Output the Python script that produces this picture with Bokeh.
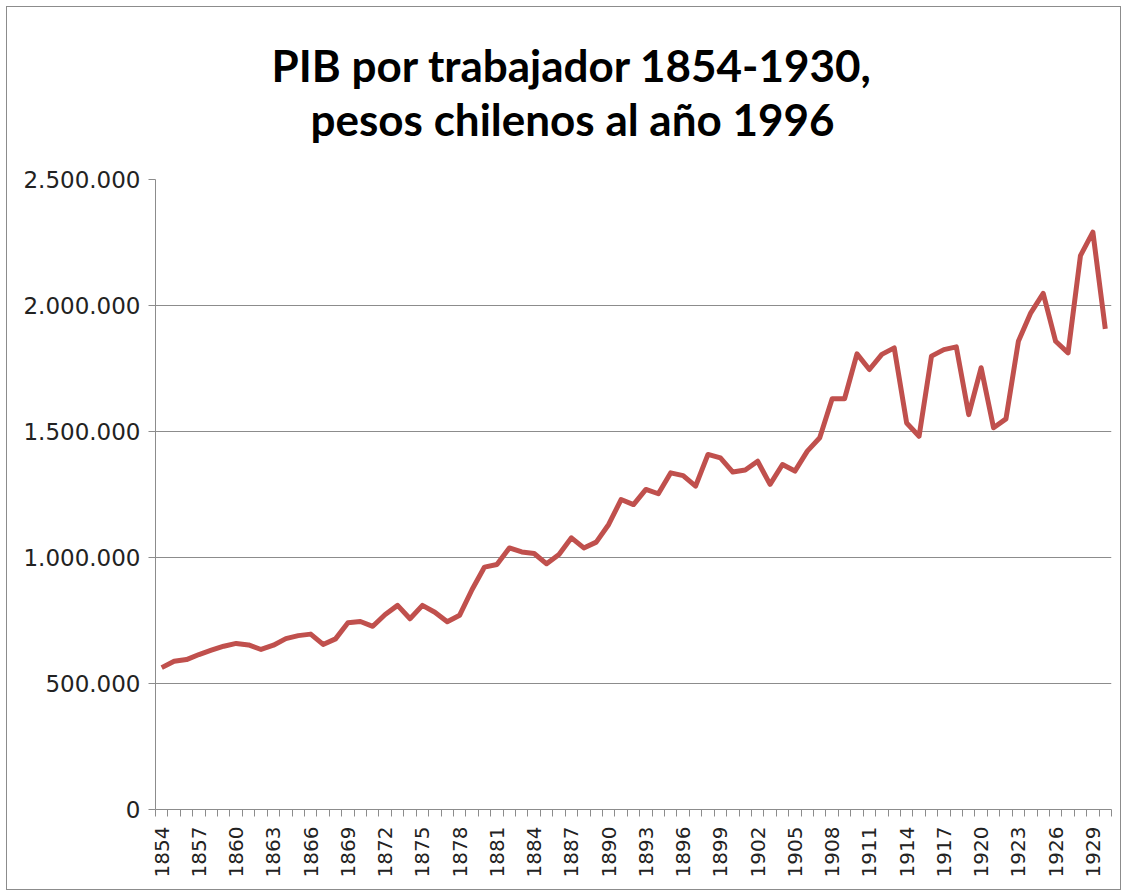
from bokeh.plotting import figure
from bokeh.models import FixedTicker, CustomJSTickFormatter, Range1d, ColumnDataSource, Title
from bokeh.embed import file_html
from bokeh.resources import INLINE
import math

# Data
years = list(range(1854, 1931))
pib = [
    563000, 588000, 595000, 615000, 632000, 648000, 659000, 653000, 635000, 652000,
    678000, 690000, 696000, 655000, 677000, 741000, 746000, 727000, 774000, 810000,
    757000, 810000, 783000, 745000, 771000, 873000, 962000, 972000, 1038000, 1022000,
    1016000, 975000, 1012000, 1078000, 1038000, 1061000, 1131000, 1230000, 1210000, 1270000,
    1253000, 1336000, 1325000, 1283000, 1409000, 1395000, 1339000, 1347000, 1382000, 1290000,
    1369000, 1343000, 1422000, 1475000, 1630000, 1630000, 1808000, 1746000, 1806000, 1832000,
    1534000, 1481000, 1799000, 1825000, 1836000, 1567000, 1753000, 1515000, 1550000, 1858000,
    1971000, 2048000, 1858000, 1812000, 2198000, 2291000, 1907000,
]
y_ticks = [0, 500000, 1000000, 1500000, 2000000, 2500000]
label_years = years[::3]
title_lines = ["PIB por trabajador 1854-1930,", "pesos chilenos al año 1996"]

src = ColumnDataSource(dict(x=years, y=pib))

p = figure(width=1115, height=884, output_backend="svg", toolbar_location=None, title=None,
           x_range=Range1d(years[0] - 0.5, years[-1] + 0.5),
           y_range=Range1d(0, 2500000),
           min_border_left=148, min_border_right=11, min_border_top=172, min_border_bottom=82)

p.styles = {"border": "1px solid #8c8c8c", "margin-left": "6px", "margin-top": "6px"}
p.outline_line_color = None
p.background_fill_color = "white"
p.border_fill_color = "white"

# Title: spacer next to the frame, then line 2, then line 1 (outermost)
p.add_layout(Title(text=" ", text_font_size="10px", standoff=22), "above")
for txt, off in zip(reversed(title_lines), [155, 116]):
    p.add_layout(Title(text=txt, align="left", offset=off, standoff=0,
                       text_font="Lato", text_font_style="bold",
                       text_font_size="44px", text_color="black"), "above")

p.line("x", "y", source=src, line_color="#C0504D", line_width=5, line_join="round")

# Y axis
p.yaxis.ticker = FixedTicker(ticks=y_ticks, minor_ticks=[])
p.yaxis.formatter = CustomJSTickFormatter(code="""
    return Math.round(tick).toString().replace(/\\B(?=(\\d{3})+(?!\\d))/g, ".");
""")
p.yaxis.major_label_text_font = "DejaVu Sans"
p.yaxis.major_label_text_font_size = "23px"
p.yaxis.major_label_text_color = "#222222"
p.yaxis.axis_line_color = "#8c8c8c"
p.yaxis.major_tick_line_color = "#8c8c8c"
p.yaxis.major_tick_out = 7
p.yaxis.major_tick_in = 0
p.yaxis.minor_tick_line_color = None
p.yaxis.major_label_standoff = 8

# X axis
boundaries = [y - 0.5 for y in years] + [years[-1] + 0.5]
p.xaxis.ticker = FixedTicker(ticks=label_years, minor_ticks=boundaries)
p.xaxis.major_label_orientation = math.pi / 2
p.xaxis.major_label_text_font = "DejaVu Sans"
p.xaxis.major_label_text_font_size = "20px"
p.xaxis.major_label_text_color = "#222222"
p.xaxis.axis_line_color = "#8c8c8c"
p.xaxis.major_tick_line_color = None
p.xaxis.minor_tick_line_color = "#8c8c8c"
p.xaxis.minor_tick_out = 7
p.xaxis.minor_tick_in = 0
p.xaxis.major_label_standoff = 10

p.xgrid.grid_line_color = None
p.ygrid.ticker = FixedTicker(ticks=y_ticks)
p.ygrid.grid_line_color = "#8c8c8c"
p.ygrid.grid_line_width = 1

open("out.html", "w").write(file_html(p, INLINE))
